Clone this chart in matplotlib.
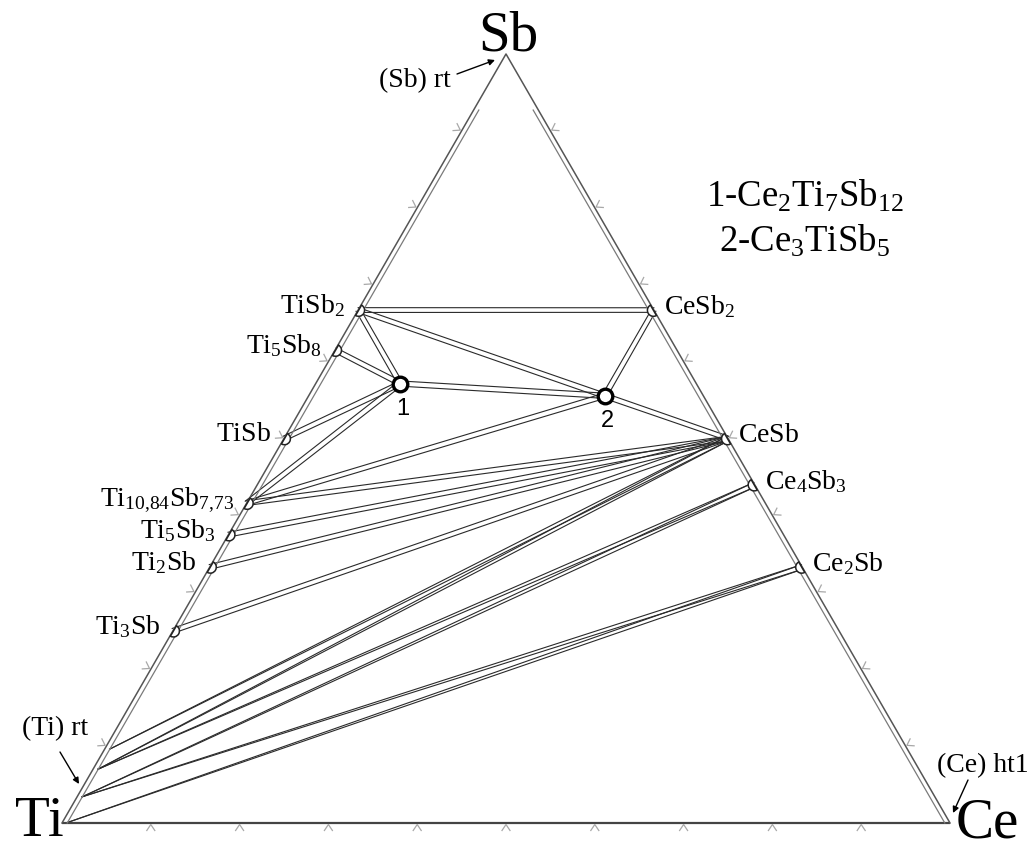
import numpy as np
import matplotlib
matplotlib.use("Agg")
import matplotlib.pyplot as plt
from matplotlib.patches import Wedge

plt.rcParams["font.family"] = ["Liberation Serif", "DejaVu Serif"]
plt.rcParams["mathtext.fontset"] = "custom"
plt.rcParams["mathtext.rm"] = "Liberation Serif"
plt.rcParams["mathtext.it"] = "Liberation Serif:italic"
plt.rcParams["mathtext.bf"] = "Liberation Serif:bold"

# ---- phase data (mole fractions) ----
# Ti-Sb binary compounds (mole fraction Sb)
ti_sb_names = ["TiSb2", "Ti5Sb8", "TiSb", "Ti10.84Sb7.73", "Ti5Sb3", "Ti2Sb", "Ti3Sb"]
ti_sb_labels = [r"$\mathregular{TiSb_2}$", r"$\mathregular{Ti_5Sb_8}$",
                r"$\mathregular{TiSb}$", r"$\mathregular{Ti_{10{,}84}Sb_{7{,}73}}$",
                r"$\mathregular{Ti_5Sb_3}$", r"$\mathregular{Ti_2Sb}$",
                r"$\mathregular{Ti_3Sb}$"]
ti_sb_x_sb = [0.667, 0.615, 0.500, 0.416, 0.375, 0.333, 0.250]

# Ce-Sb binary compounds (mole fraction Sb)
ce_sb_names = ["CeSb2", "CeSb", "Ce4Sb3", "Ce2Sb"]
ce_sb_labels = [r"$\mathregular{CeSb_2}$", r"$\mathregular{CeSb}$",
                r"$\mathregular{Ce_4Sb_3}$", r"$\mathregular{Ce_2Sb}$"]
ce_sb_x_sb = [0.667, 0.500, 0.440, 0.333]

# ternary compounds
ternary_names = ["1", "2"]
ternary_x_ce = [2 / 21, 3 / 9]
ternary_x_sb = [12 / 21, 5 / 9]

# limits of the (Ti) solid solution used as tie-line ends (mole fraction Sb)
ti_ss_names = ["(Ti)a", "(Ti)b", "(Ti)c", "Ti"]
ti_ss_x_sb = [0.096, 0.070, 0.034, 0.0]

tie_lines = [
    ("TiSb2", "CeSb2"), ("TiSb2", "1"), ("TiSb2", "2"),
    ("Ti5Sb8", "1"), ("TiSb", "1"), ("Ti10.84Sb7.73", "1"),
    ("1", "2"), ("Ti10.84Sb7.73", "2"), ("CeSb2", "2"), ("2", "CeSb"),
    ("Ti10.84Sb7.73", "CeSb"), ("Ti5Sb3", "CeSb"), ("Ti2Sb", "CeSb"),
    ("Ti3Sb", "CeSb"), ("(Ti)a", "CeSb"), ("(Ti)b", "CeSb"),
    ("(Ti)b", "Ce4Sb3"), ("(Ti)c", "Ce4Sb3"), ("(Ti)c", "Ce2Sb"),
    ("Ti", "Ce2Sb"),
]

legend_lines = [r"$\mathregular{1\text{-}Ce_2Ti_7Sb_{12}}$",
                r"$\mathregular{2\text{-}Ce_3TiSb_5}$"]

# ---- geometry ----
S3 = np.sqrt(3) / 2
PX = 1 / 888.0  # one pixel in triangle units


def cart(x_ce, x_sb):
    return np.array([x_ce + 0.5 * x_sb, S3 * x_sb])


def pix(px, py):
    return ((px - 62) * PX, (823 - py) * PX)


points = {}
half_w = {}
for n, s in zip(ti_sb_names, ti_sb_x_sb):
    points[n] = cart(0.0, s)
    half_w[n] = 2.4 * PX
for n, s in zip(ce_sb_names, ce_sb_x_sb):
    points[n] = cart(1 - s, s)
    half_w[n] = 2.3 * PX
for n, c, s in zip(ternary_names, ternary_x_ce, ternary_x_sb):
    points[n] = cart(c, s)
    half_w[n] = 2.6 * PX
for n, s in zip(ti_ss_names, ti_ss_x_sb):
    points[n] = cart(0.0, s) + np.array([5.0 * PX, 0.0]) * (1 if s > 0 else 0.8)
    half_w[n] = 0.0

fig = plt.figure(figsize=(10.36, 8.49), dpi=100)
ax = fig.add_axes([0, 0, 1, 1])
ax.set_xlim(-62 * PX, 974 * PX)
ax.set_ylim(-26 * PX, 823 * PX)
ax.axis("off")

Ti, Ce, Sb = cart(0, 0), cart(1, 0), cart(0, 1)
edge_col = "#555555"

# triangle frame
ax.plot([Ti[0], Ce[0]], [Ti[1], Ce[1]], color="#444444", lw=1.6, zorder=3,
        solid_capstyle="butt")
ax.plot([Ti[0], Sb[0], Ce[0]], [Ti[1], Sb[1], Ce[1]], color=edge_col, lw=1.1,
        zorder=3)

# inner companion lines of the two side edges
d = 4.5 * PX
t_top = 0.93
for base, top, n_in in [(Ti, Sb, np.array([S3, -0.5])),
                        (Ce, Sb, np.array([-S3, -0.5]))]:
    t0 = 0.5 * d / S3
    p0 = base + (top - base) * t0 + n_in * d
    p1 = base + (top - base) * t_top + n_in * d
    ax.plot([p0[0], p1[0]], [p0[1], p1[1]], color="#7a7a7a", lw=0.9, zorder=3)

# 10 % ticks drawn as small chevrons outside each edge
tick_col = "#a8a8a8"
depth, hw = 6 * PX, 4 * PX
edges = [
    (Ti, Ce, np.array([0.0, -1.0])),
    (Ti, Sb, np.array([-S3, 0.5])),
    (Ce, Sb, np.array([S3, 0.5])),
]
for a, b, n_out in edges:
    along = (b - a) / np.linalg.norm(b - a)
    for k in range(1, 10):
        apex = a + (b - a) * k / 10 + n_out * 1.5 * PX
        p1 = apex + n_out * depth + along * hw
        p2 = apex + n_out * depth - along * hw
        ax.plot([p1[0], apex[0], p2[0]], [p1[1], apex[1], p2[1]],
                color=tick_col, lw=0.9, zorder=3)

# tie lines: each drawn as a narrow band bounded by two thin lines
for a, b in tie_lines:
    pa, pb = points[a], points[b]
    u = (pb - pa) / np.linalg.norm(pb - pa)
    nrm = np.array([-u[1], u[0]])
    for sgn in (1, -1):
        q0 = pa + sgn * nrm * half_w[a]
        q1 = pb + sgn * nrm * half_w[b]
        ax.plot([q0[0], q1[0]], [q0[1], q1[1]], color="#2a2a2a", lw=0.8,
                zorder=2)

# binary compound markers: half discs against the edges
r = 6.0 * PX
for n in ti_sb_names:
    c = points[n] + np.array([S3, -0.5]) * 0.5 * PX
    ax.add_patch(Wedge(c, r, -120, 60, facecolor="white", edgecolor="#222222",
                       lw=1.1, zorder=4))
for n in ce_sb_names:
    c = points[n] + np.array([-S3, -0.5]) * 0.5 * PX
    ax.add_patch(Wedge(c, r, 120, 300, facecolor="white", edgecolor="#222222",
                       lw=1.1, zorder=4))

# ternary compounds
for n in ternary_names:
    p = points[n]
    ax.plot(p[0], p[1], "o", ms=10.5, mfc="white", mec="black", mew=2.4,
            zorder=5)
    ax.text(p[0] + 3 * PX, p[1] - 14 * PX, n, ha="center", va="top",
            fontsize=17, family="Liberation Sans", zorder=6)

# phase labels
lab_fs = 20
for n, lab in zip(ti_sb_names, ti_sb_labels):
    p = points[n]
    ax.text(p[0] - 13 * PX, p[1] - 3 * PX, lab, ha="right", va="baseline",
            fontsize=lab_fs)
for n, lab in zip(ce_sb_names, ce_sb_labels):
    p = points[n]
    ax.text(p[0] + 10 * PX, p[1] - 4 * PX, lab, ha="left", va="baseline",
            fontsize=lab_fs)

# vertex labels
ax.text(*pix(508, 50), "Sb", ha="center", va="baseline", fontsize=41)
ax.text(*pix(64, 836), "Ti", ha="right", va="baseline", fontsize=41)
ax.text(*pix(956, 837), "Ce", ha="left", va="baseline", fontsize=41)

# solid solution annotations
arrow = dict(arrowstyle="-|>", color="black", lw=1.0, mutation_scale=9,
             shrinkA=0, shrinkB=0)
ax.text(*pix(451, 87), "(Sb) rt", ha="right", va="baseline", fontsize=lab_fs)
ax.annotate("", xy=pix(495, 60), xytext=pix(457, 74), arrowprops=arrow)
ax.text(*pix(22, 735), "(Ti) rt", ha="left", va="baseline", fontsize=lab_fs)
ax.annotate("", xy=pix(79, 784), xytext=pix(60, 752), arrowprops=arrow)
ax.text(*pix(937, 772), "(Ce) ht1", ha="left", va="baseline", fontsize=lab_fs)
ax.annotate("", xy=pix(953, 813), xytext=pix(968, 780), arrowprops=arrow)

# legend of ternary compounds
for i, line in enumerate(legend_lines):
    ax.text(*pix(805, 207 + 45 * i), line, ha="center", va="baseline",
            fontsize=26.5)

fig.savefig("out.png", dpi=100)
